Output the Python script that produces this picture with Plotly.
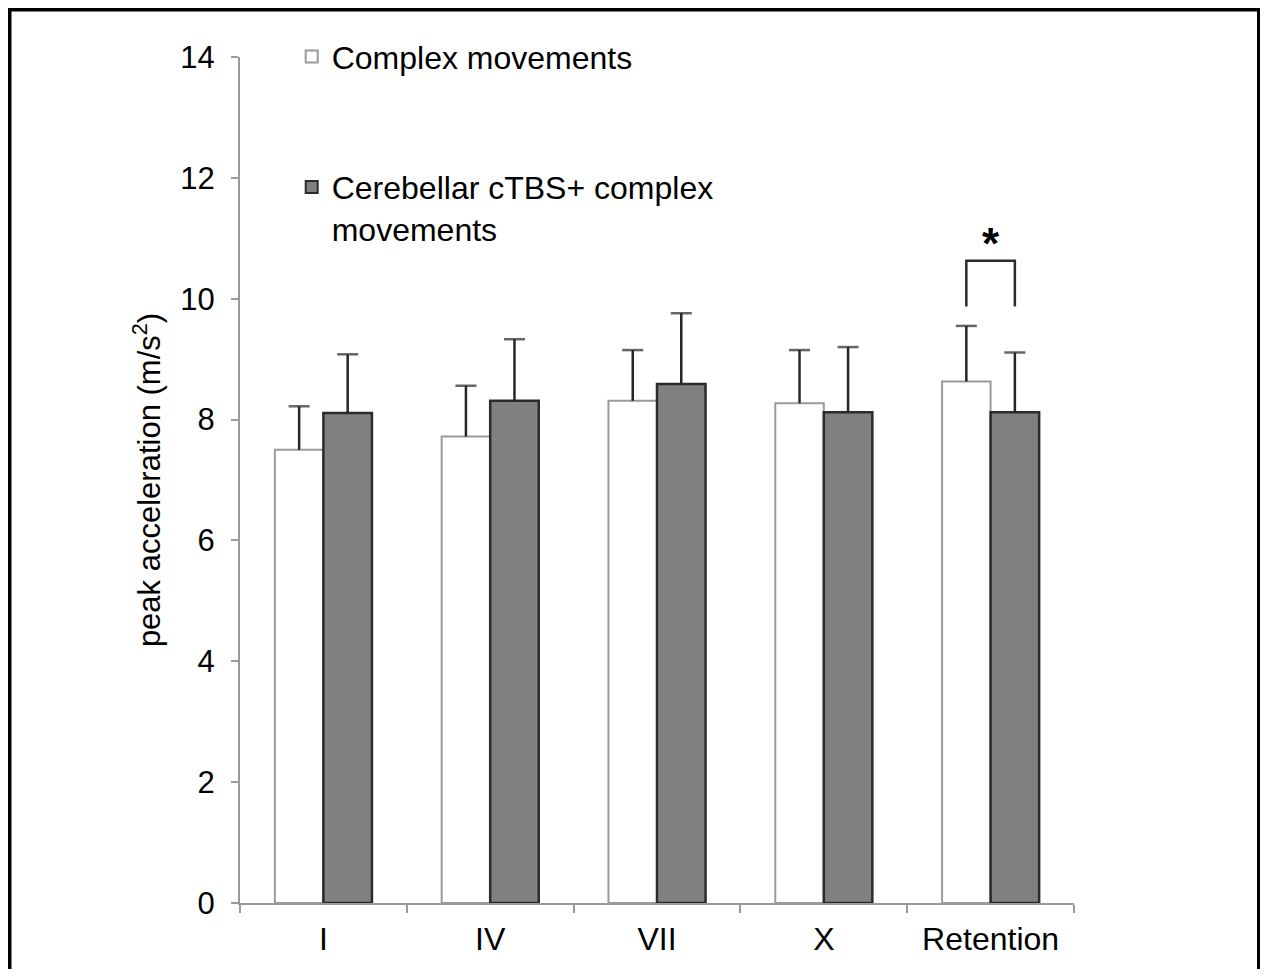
import plotly.graph_objects as go

categories = ["I", "IV", "VII", "X", "Retention"]
complex_vals = [7.50, 7.72, 8.31, 8.27, 8.63]
complex_err = [0.72, 0.84, 0.84, 0.88, 0.92]
ctbs_vals = [8.11, 8.31, 8.59, 8.12, 8.12]
ctbs_err = [0.97, 1.02, 1.17, 1.08, 0.99]
series_names = ["Complex movements", "Cerebellar cTBS+ complex<br>movements"]
y_ticks = [0, 2, 4, 6, 8, 10, 12, 14]

# significance bracket (category index, y values)
sig_index = 4
sig_bracket_top = 10.63
sig_bracket_bottom = 9.87
sig_star_y = 10.92

FONT = "Liberation Sans, Arial, sans-serif"
BARGAP = 0.418

W, H = 1252, 961
ML, MR, MT, MB = 232, 186, 49, 66

fig = go.Figure()
fig.add_trace(go.Bar(
    x=categories, y=complex_vals, name=series_names[0], legendgroup="a",
    marker=dict(color="white", line=dict(color="#9a9a9a", width=2)),
))
fig.add_trace(go.Bar(
    x=categories, y=ctbs_vals, name=series_names[1], legendgroup="b",
    marker=dict(color="#808080", line=dict(color="#2b2b2b", width=2.5)),
))


def err_trace(vals, errs):
    xs, ys, sizes = [], [], []
    for c, v, e in zip(categories, vals, errs):
        xs += [c, c, None]
        ys += [v, v + e, None]
        sizes += [0, 15, 0]
    return go.Scatter(
        x=xs, y=ys, mode="lines+markers", showlegend=False, hoverinfo="skip",
        line=dict(color="#262626", width=2.5),
        marker=dict(symbol="line-ew", size=sizes, color="#262626",
                    line=dict(color="#262626", width=2.5)),
    )


fig.add_trace(err_trace(complex_vals, complex_err))
fig.add_trace(err_trace(ctbs_vals, ctbs_err))

off = (1 - BARGAP) / 4
fig.add_shape(type="path", xref="x", yref="y",
              path=f"M {sig_index - off},{sig_bracket_bottom} L {sig_index - off},{sig_bracket_top} "
                   f"L {sig_index + off},{sig_bracket_top} L {sig_index + off},{sig_bracket_bottom}",
              line=dict(color="#2b2b2b", width=2.5))
fig.add_annotation(x=sig_index, y=sig_star_y, xref="x", yref="y", text="<b>*</b>",
                   showarrow=False, font=dict(family=FONT, size=44, color="black"))

# outer frame
pw = W - ML - MR
ph = H - MT - MB
fx0, fx1, fy0, fy1 = 1.5, 1251, 1.5, H + 20
fig.add_shape(type="rect", xref="paper", yref="paper",
              x0=(fx0 - ML) / pw, x1=(fx1 - ML) / pw,
              y0=(H - MB - fy1) / ph, y1=(H - MB - fy0) / ph,
              line=dict(color="black", width=4), layer="above")

fig.update_layout(
    width=W, height=H,
    margin=dict(l=ML, r=MR, t=MT, b=MB, autoexpand=False),
    paper_bgcolor="white", plot_bgcolor="white",
    barmode="group", bargap=BARGAP, bargroupgap=0,
    scattermode="group", scattergap=BARGAP,
    font=dict(family=FONT, size=30, color="black"),
    showlegend=True,
    legend=dict(x=0.062, y=1.033, xanchor="left", yanchor="top",
                bgcolor="rgba(0,0,0,0)", font=dict(size=32, family=FONT),
                traceorder="grouped", tracegroupgap=86, valign="top",
                itemsizing="constant"),
    xaxis=dict(showline=True, linecolor="#9a9a9a", linewidth=2,
               ticks="outside", tickson="boundaries", ticklen=8, tickcolor="#9a9a9a",
               tickwidth=2, showgrid=False, zeroline=False,
               tickfont=dict(size=32, family=FONT), ticklabelstandoff=7),
    yaxis=dict(range=[0, 14], tickvals=y_ticks, showline=True, linecolor="#9a9a9a",
               linewidth=2, ticks="outside", ticklen=7, tickcolor="#9a9a9a", tickwidth=2,
               showgrid=False, zeroline=False,
               tickfont=dict(size=31, family=FONT), ticklabelstandoff=10,
               title=dict(text="peak acceleration (m/s<sup>2</sup>)",
                          font=dict(size=31, family=FONT), standoff=10)),
)

fig.write_html("out.html")
